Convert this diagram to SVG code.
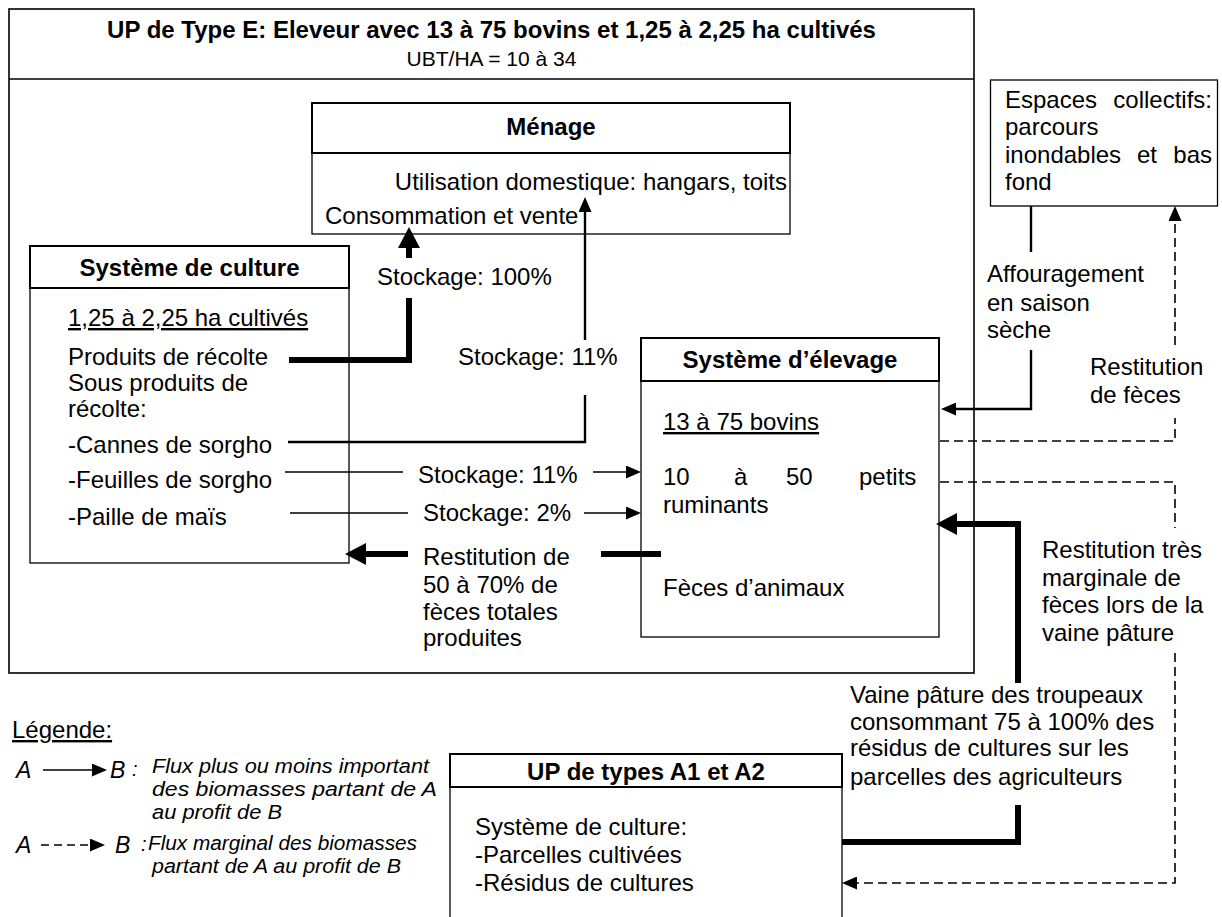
<svg xmlns="http://www.w3.org/2000/svg" width="1222" height="917" viewBox="0 0 1222 917">
<style>
text{font-family:"Liberation Sans",Arial,sans-serif;font-size:24px;fill:#000}
.b{font-weight:bold}
.c{text-anchor:middle}
.e{text-anchor:end}
.u{text-decoration:underline}
.i{font-style:italic;font-size:20px}
.ab{font-style:italic;font-size:23px}
.hd{fill:none;stroke:#000;stroke-width:2}
.bd{fill:none;stroke:#000;stroke-width:1.3}
.thin{fill:none;stroke:#000;stroke-width:1.5}
.med{fill:none;stroke:#000;stroke-width:2.4}
.thick{fill:none;stroke:#000;stroke-width:6}
.dash{fill:none;stroke:#000;stroke-width:1.6;stroke-dasharray:9 5}
</style>
<defs>
<marker id="ah" markerUnits="userSpaceOnUse" markerWidth="15" markerHeight="13" refX="0" refY="6.5" orient="auto"><path d="M0,0 L15,6.5 L0,13 z" fill="#000"/></marker>
<marker id="ahT" markerUnits="userSpaceOnUse" markerWidth="21" markerHeight="22" refX="0" refY="11" orient="auto"><path d="M0,0 L21,11 L0,22 z" fill="#000"/></marker>
</defs>
<rect width="1222" height="917" fill="#fff"/>

<g id="up-type-e">
<rect x="9" y="9" width="965" height="664" fill="none" stroke="#000" stroke-width="1.6"/>
<line x1="9" y1="79" x2="974" y2="79" stroke="#000" stroke-width="1.6"/>
<text class="b c" x="491.5" y="38">UP de Type E: Eleveur avec 13 à 75 bovins et 1,25 à 2,25 ha cultivés</text>
<text class="c" x="491.5" y="66" style="font-size:21px">UBT/HA = 10 à 34</text>
</g>

<g id="menage">
<rect class="hd" x="312" y="103" width="478" height="50"/>
<rect class="bd" x="312" y="153" width="478" height="81"/>
<text class="b c" x="551" y="135">Ménage</text>
<text class="e" x="787" y="190">Utilisation domestique: hangars, toits</text>
<text x="325" y="224">Consommation et vente</text>
</g>

<g id="systeme-culture">
<rect class="hd" x="30" y="246" width="319" height="42"/>
<rect class="bd" x="30" y="288" width="319" height="275"/>
<text class="b c" x="189.5" y="276">Système de culture</text>
<text class="u" x="68" y="326">1,25 à 2,25 ha cultivés</text>
<text x="68" y="365">Produits de récolte</text>
<text x="68" y="391">Sous produits de</text>
<text x="68" y="417">récolte:</text>
<text x="68" y="453">-Cannes de sorgho</text>
<text x="68" y="488">-Feuilles de sorgho</text>
<text x="68" y="525">-Paille de maïs</text>
</g>

<g id="systeme-elevage">
<rect class="hd" x="641" y="338" width="298" height="43"/>
<rect class="bd" x="641" y="381" width="298" height="256"/>
<text class="b c" x="790" y="368">Système d’élevage</text>
<text class="u" x="663" y="430">13 à 75 bovins</text>
<text y="485"><tspan x="663">10</tspan><tspan x="734">à</tspan><tspan x="786">50</tspan><tspan x="859">petits</tspan></text>
<text x="663" y="513">ruminants</text>
<text x="663" y="596">Fèces d’animaux</text>
</g>

<g id="espaces-collectifs">
<rect class="bd" x="990.5" y="80" width="227" height="126"/>
<text x="1005" y="108">Espaces</text>
<text class="e" x="1212" y="108">collectifs:</text>
<text x="1005" y="135">parcours</text>
<text x="1005" y="163">inondables</text>
<text x="1137" y="163">et</text>
<text class="e" x="1212" y="163">bas</text>
<text x="1005" y="190">fond</text>
</g>

<g id="up-types-a1-a2">
<rect class="hd" x="450" y="754" width="392" height="33"/>
<rect class="bd" x="450" y="787" width="392" height="150"/>
<text class="b c" x="646" y="780">UP de types A1 et A2</text>
<text x="475" y="835">Système de culture:</text>
<text x="475" y="863">-Parcelles cultivées</text>
<text x="475" y="891">-Résidus de cultures</text>
</g>

<g id="connectors">
<path class="thick" d="M289,360 H409 V298 M409,258 V248" marker-end="url(#ahT)"/>
<path class="med" d="M288,442 H585 V395 M585,340 V212" marker-end="url(#ah)"/>
<path class="thin" d="M285,472 H403 M593,472 H626" marker-end="url(#ah)"/>
<path class="thin" d="M290,513 H408 M584,513 H626" marker-end="url(#ah)"/>
<path class="thick" d="M661,554 H601 M408,554 H366" marker-end="url(#ahT)"/>
<path class="med" d="M1031,206 V252 M1031,350 V409 H956" marker-end="url(#ah)"/>
<path class="dash" d="M940,441 H1175 V418 M1175,345 V221" marker-end="url(#ah)"/>
<path class="dash" d="M940,482 H1175 V528 M1175,653 V883 H857" marker-end="url(#ah)"/>
<path class="thick" d="M842,842 H1018 V805 M1018,683 V524 H957" marker-end="url(#ahT)"/>
<text x="377" y="285">Stockage: 100%</text>
<text x="458" y="365">Stockage: 11%</text>
<text x="418" y="483">Stockage: 11%</text>
<text x="423" y="521">Stockage: 2%</text>
<text x="423" y="565">Restitution de</text>
<text x="423" y="593">50 à 70% de</text>
<text x="423" y="620">fèces totales</text>
<text x="423" y="646">produites</text>
<text x="987" y="282">Affouragement</text>
<text x="987" y="311">en saison</text>
<text x="987" y="338">sèche</text>
<text x="1090" y="375">Restitution</text>
<text x="1090" y="403">de fèces</text>
<text x="1042" y="558">Restitution très</text>
<text x="1042" y="586">marginale de</text>
<text x="1042" y="613">fèces lors de la</text>
<text x="1042" y="641">vaine pâture</text>
<text x="850" y="703">Vaine pâture des troupeaux</text>
<text x="850" y="730">consommant 75 à 100% des</text>
<text x="850" y="756">résidus de cultures sur les</text>
<text x="850" y="785">parcelles des agriculteurs</text>
</g>

<g id="legende">
<text class="u" x="12" y="738">Légende:</text>
<text class="ab" x="16" y="778">A</text>
<path class="thin" d="M43,770 H92" marker-end="url(#ah)"/>
<text class="ab" x="110" y="778">B</text>
<text class="i" x="132" y="776">:</text>
<text class="i" x="152" y="773" textLength="277" lengthAdjust="spacingAndGlyphs">Flux plus ou moins important</text>
<text class="i" x="152" y="796" textLength="285" lengthAdjust="spacingAndGlyphs">des biomasses partant de A</text>
<text class="i" x="152" y="819" textLength="130" lengthAdjust="spacingAndGlyphs">au profit de B</text>
<text class="ab" x="16" y="853">A</text>
<path class="dash" d="M41,845 H90" style="stroke-dasharray:8 5" marker-end="url(#ah)"/>
<text class="ab" x="115" y="853">B</text>
<text class="i" x="141" y="851">:</text>
<text class="i" x="148" y="850" textLength="269" lengthAdjust="spacingAndGlyphs">Flux marginal des biomasses</text>
<text class="i" x="152" y="873" textLength="249" lengthAdjust="spacingAndGlyphs">partant de A au profit de B</text>
</g>
</svg>
